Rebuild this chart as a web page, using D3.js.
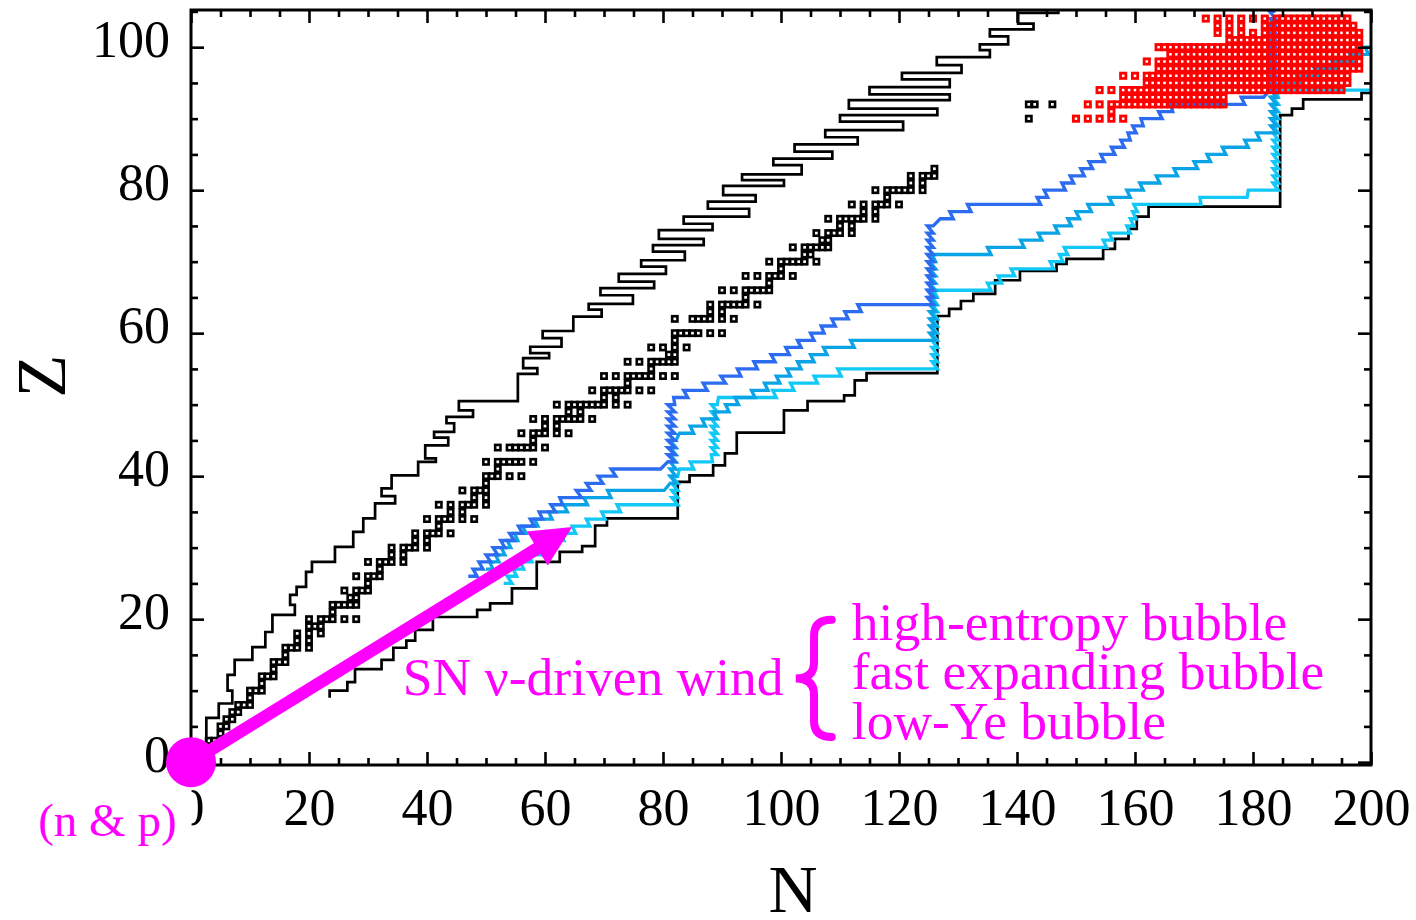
<!DOCTYPE html>
<html>
<head>
<meta charset="utf-8">
<script src="https://cdnjs.cloudflare.com/ajax/libs/d3/7.8.5/d3.min.js"></script>
<style>
  html, body { margin: 0; padding: 0; background: #fff; }
  svg { display: block; }
</style>
</head>
<body>
<svg id="chart" width="1416" height="920"></svg>
<script>
// ---------------- data ----------------
const xMajorTicks = [0, 20, 40, 60, 80, 100, 120, 140, 160, 180, 200];
const yMajorTicks = [0, 20, 40, 60, 80, 100];
const xMinorTicks = d3.range(0, 201, 5).filter(v => v % 20 !== 0);
const yMinorTicks = d3.range(0, 106, 5).filter(v => v % 20 !== 0);

// stable isotopes: mass numbers for Z = 1 .. 83
const stableMassNumbers = [
  [1, 2], [3, 4], [6, 7], [9], [10, 11], [12, 13], [14, 15], [16, 17, 18], [19], [20, 21, 22],
  [23], [24, 25, 26], [27], [28, 29, 30], [31], [32, 33, 34, 36], [35, 37], [36, 38, 40], [39, 40, 41],
  [40, 42, 43, 44, 46, 48], [45], [46, 47, 48, 49, 50], [50, 51], [50, 52, 53, 54], [55], [54, 56, 57, 58],
  [59], [58, 60, 61, 62, 64], [63, 65], [64, 66, 67, 68, 70], [69, 71], [70, 72, 73, 74, 76], [75],
  [74, 76, 77, 78, 80, 82], [79, 81], [78, 80, 82, 83, 84, 86], [85, 87], [84, 86, 87, 88], [89],
  [90, 91, 92, 94, 96], [93], [92, 94, 95, 96, 97, 98, 100], [], [96, 98, 99, 100, 101, 102, 104], [103],
  [102, 104, 105, 106, 108, 110], [107, 109], [106, 108, 110, 111, 112, 113, 114, 116], [113, 115],
  [112, 114, 115, 116, 117, 118, 119, 120, 122, 124], [121, 123], [120, 122, 123, 124, 125, 126, 128, 130],
  [127], [124, 126, 128, 129, 130, 131, 132, 134, 136], [133], [130, 132, 134, 135, 136, 137, 138],
  [138, 139], [136, 138, 140, 142], [141], [142, 143, 144, 145, 146, 148, 150], [],
  [144, 147, 148, 149, 150, 152, 154], [151, 153], [152, 154, 155, 156, 157, 158, 160], [159],
  [156, 158, 160, 161, 162, 163, 164], [165], [162, 164, 166, 167, 168, 170], [169],
  [168, 170, 171, 172, 173, 174, 176], [175, 176], [174, 176, 177, 178, 179, 180], [180, 181],
  [180, 182, 183, 184, 186], [185, 187], [184, 186, 187, 188, 189, 190, 192], [191, 193],
  [190, 192, 194, 195, 196, 198], [197], [196, 198, 199, 200, 201, 202, 204], [203, 205],
  [204, 206, 207, 208], [209]
];
// long-lived Th and U
const actinideN = [142, 142, 143, 146];
const actinideZ = [90, 92, 92, 92];

// fissioning nuclei: [Z, N from, N to, N step]
const fissionRuns = [
  [90, 150, 158, 2],
  [91, 156, 156, 1],
  [92, 152, 156, 2], [92, 157, 175, 1],
  [93, 158, 175, 1],
  [94, 154, 158, 2], [94, 159, 195, 1],
  [95, 162, 196, 1],
  [96, 158, 162, 2], [96, 163, 196, 1],
  [97, 164, 198, 1],
  [98, 162, 164, 2], [98, 165, 198, 1],
  [99, 166, 198, 1],
  [100, 164, 198, 1],
  [101, 176, 198, 1],
  [102, 174, 182, 2], [102, 183, 198, 1],
  [103, 174, 178, 2], [103, 182, 197, 1],
  [104, 172, 182, 2], [104, 184, 196, 1]
];

// proton drip line: boundary corners (N edge, Z level), step-before order
const pDripN = [2.6, 4.7, 7.0, 6.2, 7.4, 10.4, 12.6, 13.8, 17.6, 16.8, 17.9, 19.5, 20.5, 24.4, 27.5, 29.2,
  31.2, 34.6, 32.3, 34.0, 38.5, 41.5, 39.7, 43.6, 41.2, 44.6, 43.3, 47.8, 45.4, 55.4, 58.7, 56.3, 60.7,
  57.5, 62.8, 59.6, 64.8, 69.6, 67.4, 74.9, 69.4, 78.5, 72.5, 80.5, 76.3, 83.7, 78.3, 86.9, 79.3, 88.4,
  83.5, 94.6, 87.6, 95.7, 90.2, 100.5, 93.4, 103.5, 98.7, 108.7, 102.3, 113.0, 107.5, 120.7, 110.0,
  126.5, 111.5, 128.6, 115.0, 128.6, 120.5, 130.6, 126.4, 135.4, 133.7, 138.5, 135.4, 142.8, 140.2,
  147.0, 147.0];
const pDripZ = [1.0, 6.2, 8.2, 10.0, 12.2, 14.3, 16.1, 18.2, 20.6, 22.0, 23.4, 24.5, 26.6, 28.0, 30.1, 32.2,
  34.1, 36.2, 37.2, 38.3, 40.1, 42.0, 42.5, 44.3, 45.4, 46.2, 47.4, 48.3, 49.2, 50.5, 54.3, 55.1, 56.5,
  57.2, 58.1, 59.3, 60.3, 62.3, 63.3, 64.1, 65.3, 66.3, 67.2, 68.3, 69.3, 70.2, 71.4, 72.3, 73.2, 74.4,
  75.3, 76.3, 77.4, 78.4, 79.3, 80.6, 81.4, 82.2, 83.5, 84.4, 85.4, 86.4, 87.4, 88.4, 89.6,
  90.5, 91.4, 92.6, 93.4, 94.4, 95.5, 96.4, 97.5, 98.6, 99.6, 100.4, 101.5, 102.5, 103.3,
  104.8, 106.5];

// neutron drip line: boundary corners (N edge, Z level), step-before order
const nDripN = [23.5, 26.5, 27.8, 32.3, 34.3, 36.5, 38.0, 41.0, 48.5, 50.7, 54.4, 58.6, 62.5, 66.3, 68.5,
  70.5, 82.5, 84.5, 88.5, 90.5, 92.5, 100.5, 104.5, 110.7, 112.5, 114.5, 126.5, 128.5, 130.5, 132.6,
  136.3, 140.5, 146.7, 148.4, 154.6, 156.6, 158.9, 160.3, 162.3, 184.6, 186.6, 188.5, 198.4, 202];
const nDripZ = [9.0, 10.0, 11.2, 13.0, 14.3, 16.0, 17.0, 18.5, 20.3, 21.3, 22.2, 24.3, 28.0, 29.4, 30.2,
  33.1, 34.1, 39.2, 40.1, 41.5, 43.2, 46.1, 49.2, 50.5, 51.3, 53.4, 54.4, 62.4, 63.4, 64.5,
  65.5, 67.4, 68.7, 69.7, 70.4, 71.8, 73.2, 74.6, 76.3, 77.7, 90.5, 91.4, 92.7, 93.6];

// r-process paths: [Z from, Z to, N low, N high] for each row of the path
const highEntropyPath = [
  [26, 26, 47.0, 48.5], [27, 27, 47.8, 49.5], [28, 28, 48.8, 50.8], [29, 29, 50.0, 52.0],
  [30, 30, 51.2, 53.2], [31, 31, 52.5, 54.8], [32, 32, 54.0, 56.2], [33, 33, 55.5, 58.2],
  [34, 34, 57.5, 59.6], [35, 35, 59.0, 61.8], [36, 36, 61.0, 63.0], [37, 37, 62.5, 66.2],
  [38, 38, 65.3, 67.8], [39, 39, 67.0, 69.8], [40, 40, 69.0, 72.0], [41, 41, 71.2, 79.6],
  [42, 50, 80.8, 82.0],
  [51, 51, 81.8, 84.2], [52, 52, 83.5, 87.5], [53, 53, 86.8, 90.6], [54, 54, 89.8, 93.2],
  [55, 55, 92.6, 96.0], [56, 56, 95.4, 99.0], [57, 57, 98.3, 101.4], [58, 58, 100.8, 103.4],
  [59, 59, 102.8, 105.6], [60, 60, 105.0, 107.3], [61, 61, 106.8, 109.2], [62, 62, 108.6, 111.4],
  [63, 63, 110.8, 113.6], [64, 64, 113.0, 125.8],
  [65, 75, 124.8, 125.8],
  [76, 76, 127.0, 129.2], [77, 77, 128.6, 132.2], [78, 78, 131.6, 144.0], [79, 79, 143.4, 145.2],
  [80, 80, 144.6, 148.2], [81, 81, 147.6, 149.6], [82, 82, 149.0, 151.4], [83, 83, 150.8, 152.8],
  [84, 84, 152.2, 154.8], [85, 85, 154.2, 156.6], [86, 86, 156.0, 158.2], [87, 87, 157.6, 159.2],
  [88, 88, 158.8, 160.2], [89, 89, 159.6, 161.4], [90, 90, 161.0, 164.6], [91, 91, 164.0, 166.4],
  [92, 92, 166.0, 178.6], [93, 93, 178.0, 181.8],
  [94, 105, 182.8, 183.8]
];
const fastExpandingPath = [
  [27, 27, 50.0, 51.2], [28, 28, 50.6, 52.2], [29, 29, 51.6, 53.2], [30, 30, 52.6, 54.2],
  [31, 31, 53.6, 55.4], [32, 32, 54.8, 56.8], [33, 33, 56.2, 58.8], [34, 34, 58.2, 61.2],
  [35, 35, 60.6, 63.8], [36, 36, 63.2, 67.2], [37, 37, 66.6, 71.2], [38, 38, 70.6, 80.2],
  [39, 45, 81.2, 82.2],
  [46, 46, 82.8, 85.2], [47, 47, 84.6, 87.2], [48, 48, 86.6, 89.2], [49, 49, 88.6, 91.2],
  [50, 50, 90.6, 92.8], [51, 51, 92.2, 95.6], [52, 52, 95.0, 97.8], [53, 53, 97.2, 99.8],
  [54, 54, 99.2, 101.6], [55, 55, 101.0, 103.4], [56, 56, 102.8, 105.6], [57, 57, 105.0, 107.8],
  [58, 58, 107.2, 112.4], [59, 59, 111.8, 126.2],
  [60, 70, 125.2, 126.2],
  [71, 71, 125.6, 135.6], [72, 72, 135.0, 141.2], [73, 73, 140.6, 144.2], [74, 74, 143.6, 147.0],
  [75, 75, 146.4, 149.2], [76, 76, 148.6, 150.6], [77, 77, 150.0, 152.6], [78, 78, 152.0, 156.2],
  [79, 79, 155.6, 159.2], [80, 80, 158.6, 161.4], [81, 81, 160.8, 164.2], [82, 82, 163.6, 167.2],
  [83, 83, 166.6, 170.6], [84, 84, 170.0, 172.8], [85, 85, 172.2, 175.4], [86, 86, 174.8, 179.2],
  [87, 87, 178.6, 181.2], [88, 88, 180.6, 184.0],
  [89, 94, 183.0, 184.0],
  [95, 95, 184.6, 188.0], [96, 96, 187.4, 191.0], [97, 97, 190.4, 194.0], [98, 98, 193.4, 197.0],
  [99, 99, 196.4, 199.6], [100, 100, 199.0, 202.0]
];
const lowYePath = [
  [25, 25, 53.0, 54.4], [26, 26, 53.6, 55.2], [27, 27, 54.6, 56.4], [28, 28, 55.8, 57.8],
  [29, 29, 57.2, 59.4], [30, 30, 58.8, 61.2], [31, 31, 60.6, 63.2], [32, 32, 62.6, 65.2],
  [33, 33, 64.6, 67.6], [34, 34, 67.0, 70.2], [35, 35, 69.6, 72.8], [36, 36, 72.2, 82.5],
  [37, 40, 81.5, 82.5],
  [41, 41, 82.8, 85.2], [42, 42, 84.6, 88.4],
  [43, 50, 88.2, 89.2],
  [51, 51, 89.4, 99.2], [52, 52, 98.6, 102.2], [53, 53, 101.6, 106.2], [54, 54, 105.6, 110.2],
  [55, 55, 109.6, 126.5],
  [56, 65, 125.6, 126.5],
  [66, 66, 125.9, 135.6], [67, 67, 135.0, 137.4], [68, 68, 136.8, 139.6], [69, 69, 139.0, 146.2],
  [70, 70, 145.6, 147.8], [71, 71, 147.2, 148.6], [72, 72, 148.0, 155.2], [73, 73, 154.6, 156.2],
  [74, 74, 155.6, 159.2], [75, 75, 158.6, 159.8], [76, 76, 159.2, 160.2], [77, 77, 159.6, 160.4],
  [78, 78, 159.8, 171.2], [79, 79, 171.0, 179.0], [80, 80, 179.2, 184.3],
  [81, 93, 183.4, 184.3],
  [94, 94, 183.8, 202.0]
];
const pathColors = ["#2c6cf0", "#0aa4e6", "#12c8f6"];

// annotation anchors in (N, Z)
const arrowFrom = [0, 0];
const arrowTo = [64.6, 32.9];
const windLabel = { text: "SN \u03bd-driven wind", n: 35.9, z: 9.4 };
const bubbleLabels = ["high-entropy bubble", "fast expanding bubble", "low-Ye bubble"];
const bubbleLabelN = 112.0;
const bubbleLabelZ = [17.1, 10.2, 3.2];
const braceN = [102.5, 105.6, 108.6];   // tip, stem, ends
const braceZ = [19.9, 11.7, 3.5];       // top, middle, bottom
const sourceLabel = { text: "(n & p)", n: -25.9, z: -10.3 };

// ---------------- drawing ----------------
const FONT = "'Liberation Serif', 'Times New Roman', Times, serif";
const MAGENTA = "#ff00ff";
const svg = d3.select("#chart");

const x = d3.scaleLinear().domain([0, 200]).range([191, 1371]);
const y = d3.scaleLinear().domain([-0.4, 105.2]).range([765, 10]);
const [x0, x1] = x.range();
const yBottom = y(-0.4), yTop = y(105.2);

svg.append("defs").append("clipPath").attr("id", "plotClip")
  .append("rect").attr("x", x0).attr("y", yTop).attr("width", x1 - x0).attr("height", yBottom - yTop);

const plot = svg.append("g").attr("clip-path", "url(#plotClip)");

// drip lines
const stepLine = d3.line().curve(d3.curveStepBefore).x(d => x(d[0])).y(d => y(d[1]));
plot.append("path")
  .attr("d", stepLine(pDripN.map((n, i) => [n, pDripZ[i]])))
  .attr("fill", "none").attr("stroke", "#000").attr("stroke-width", 2.7).attr("stroke-linejoin", "miter");
plot.append("path")
  .attr("d", stepLine(nDripN.map((n, i) => [n, nDripZ[i]])))
  .attr("fill", "none").attr("stroke", "#000").attr("stroke-width", 2.7).attr("stroke-linejoin", "miter");

// stable nuclei
const stableNuclei = [];
stableMassNumbers.forEach((masses, i) => {
  const z = i + 1;
  masses.forEach(a => stableNuclei.push({ n: a - z, z }));
});
actinideZ.forEach((z, i) => stableNuclei.push({ n: actinideN[i], z }));

const BOX = 5.3;
plot.append("g").selectAll("rect").data(stableNuclei).join("rect")
  .attr("x", d => x(d.n) - BOX / 2).attr("y", d => y(d.z) - BOX / 2)
  .attr("width", BOX).attr("height", BOX)
  .attr("fill", "none").attr("stroke", "#000").attr("stroke-width", 2.6);

// r-process paths
function pathRows(rows) {
  const pts = [];
  rows.forEach(([zFrom, zTo, lo, hi]) => {
    for (let z = zFrom; z <= zTo; z++) { pts.push([lo, z], [hi, z]); }
  });
  return pts;
}
const polyline = d3.line().x(d => x(d[0])).y(d => y(d[1]));
[lowYePath, fastExpandingPath, highEntropyPath].forEach((rows, i) => {
  plot.append("path")
    .attr("d", polyline(pathRows(rows)))
    .attr("fill", "none").attr("stroke", pathColors[2 - i]).attr("stroke-width", 3.3)
    .attr("stroke-linejoin", "miter").attr("stroke-miterlimit", 3);
});

// fissioning nuclei
const fissionNuclei = [];
fissionRuns.forEach(([z, from, to, step]) => {
  d3.range(from, to + 0.001, step).forEach(n => fissionNuclei.push({ n, z }));
});
plot.append("g").selectAll("rect").data(fissionNuclei).join("rect")
  .attr("x", d => x(d.n) - BOX / 2).attr("y", d => y(d.z) - BOX / 2)
  .attr("width", BOX).attr("height", BOX)
  .attr("fill", "none").attr("stroke", "#ff0000").attr("stroke-width", 2.8);

// axes (ticks point inward on all four sides)
function styleAxis(g) {
  g.select(".domain").remove();
  g.selectAll("line").attr("stroke", "#000").attr("stroke-width", 2.6);
  g.selectAll("text").attr("font-family", FONT).attr("font-size", 52).attr("fill", "#000");
}
const fmt = d3.format("d");
const gxB = svg.append("g").attr("transform", `translate(0,${yBottom})`)
  .call(d3.axisBottom(x).tickValues(xMajorTicks).tickSize(-13).tickFormat(fmt)).call(styleAxis);
gxB.selectAll("text").attr("y", 60).attr("dy", null);
svg.append("g").attr("transform", `translate(0,${yBottom})`)
  .call(d3.axisBottom(x).tickValues(xMinorTicks).tickSize(-7).tickFormat("")).call(styleAxis);
svg.append("g").attr("transform", `translate(0,${yTop})`)
  .call(d3.axisTop(x).tickValues(xMajorTicks).tickSize(-13).tickFormat("")).call(styleAxis);
svg.append("g").attr("transform", `translate(0,${yTop})`)
  .call(d3.axisTop(x).tickValues(xMinorTicks).tickSize(-7).tickFormat("")).call(styleAxis);

const gyL = svg.append("g").attr("transform", `translate(${x0},0)`)
  .call(d3.axisLeft(y).tickValues(yMajorTicks).tickSize(-13).tickFormat(fmt)).call(styleAxis);
gyL.selectAll("text").attr("x", -21).attr("dy", null).attr("y", 9);
svg.append("g").attr("transform", `translate(${x0},0)`)
  .call(d3.axisLeft(y).tickValues(yMinorTicks).tickSize(-7).tickFormat("")).call(styleAxis);
svg.append("g").attr("transform", `translate(${x1},0)`)
  .call(d3.axisRight(y).tickValues(yMajorTicks).tickSize(-13).tickFormat("")).call(styleAxis);
svg.append("g").attr("transform", `translate(${x1},0)`)
  .call(d3.axisRight(y).tickValues(yMinorTicks).tickSize(-7).tickFormat("")).call(styleAxis);

// frame
svg.append("rect").attr("x", x0).attr("y", yTop).attr("width", x1 - x0).attr("height", yBottom - yTop)
  .attr("fill", "none").attr("stroke", "#000").attr("stroke-width", 3);

// axis titles
svg.append("text").attr("x", (x0 + x1) / 2 + 12).attr("y", 912).attr("text-anchor", "middle")
  .attr("font-family", FONT).attr("font-size", 68).text("N");
svg.append("text").attr("transform", `translate(65,${y(54)}) rotate(-90)`).attr("text-anchor", "middle")
  .attr("font-family", FONT).attr("font-size", 70).text("Z");

// ---------------- annotations ----------------
const ann = svg.append("g");

// source label with its white backing
const srcBg = ann.append("rect").attr("fill", "#fff");
const src = ann.append("text").attr("x", x(sourceLabel.n)).attr("y", y(sourceLabel.z))
  .attr("font-family", FONT).attr("font-size", 47).attr("fill", MAGENTA).text(sourceLabel.text);
const sb = src.node().getBBox();
srcBg.attr("x", sb.x - 6).attr("y", sb.y - 4).attr("width", sb.width + 21).attr("height", sb.height + 8);

// arrow from the (n & p) source
const ax0 = x(arrowFrom[0]), ay0 = y(arrowFrom[1]);
const ax1 = x(arrowTo[0]), ay1 = y(arrowTo[1]);
const len = Math.hypot(ax1 - ax0, ay1 - ay0);
const ux = (ax1 - ax0) / len, uy = (ay1 - ay0) / len;
const headLen = 41, headHalf = 20;
const bx = ax1 - ux * headLen, by = ay1 - uy * headLen;
ann.append("line").attr("x1", ax0).attr("y1", ay0).attr("x2", bx + ux * 2).attr("y2", by + uy * 2)
  .attr("stroke", MAGENTA).attr("stroke-width", 12.5);
ann.append("path")
  .attr("d", `M${ax1},${ay1}L${bx - uy * headHalf},${by + ux * headHalf}L${bx + uy * headHalf},${by - ux * headHalf}Z`)
  .attr("fill", MAGENTA);
ann.append("circle").attr("cx", ax0).attr("cy", ay0).attr("r", 25).attr("fill", MAGENTA);

// wind label, brace and bubble labels
ann.append("text").attr("x", x(windLabel.n)).attr("y", y(windLabel.z))
  .attr("font-family", FONT).attr("font-size", 53.5).attr("fill", MAGENTA).text(windLabel.text);

const bTip = x(braceN[0]), bStem = x(braceN[1]), bEnd = x(braceN[2]);
const bTop = y(braceZ[0]), bMid = y(braceZ[1]), bBot = y(braceZ[2]);
const r = 16;
const brace = d3.path();
brace.moveTo(bEnd, bTop);
brace.quadraticCurveTo(bStem, bTop, bStem, bTop + r);
brace.lineTo(bStem, bMid - r);
brace.quadraticCurveTo(bStem, bMid, bTip, bMid);
brace.quadraticCurveTo(bStem, bMid, bStem, bMid + r);
brace.lineTo(bStem, bBot - r);
brace.quadraticCurveTo(bStem, bBot, bEnd, bBot);
ann.append("path").attr("d", brace.toString()).attr("fill", "none")
  .attr("stroke", MAGENTA).attr("stroke-width", 8).attr("stroke-linecap", "round");

bubbleLabels.forEach((t, i) => {
  ann.append("text").attr("x", x(bubbleLabelN)).attr("y", y(bubbleLabelZ[i]))
    .attr("font-family", FONT).attr("font-size", 53.5).attr("fill", MAGENTA).text(t);
});
</script>
</body>
</html>
